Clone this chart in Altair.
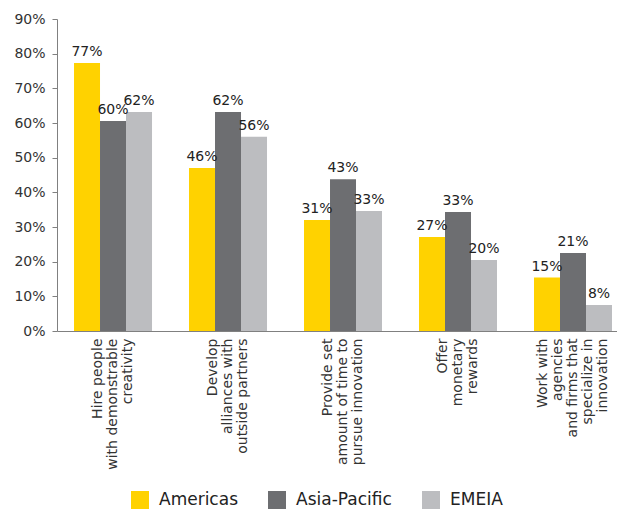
import altair as alt
import pandas as pd

categories = [
    "Hire people|with demonstrable|creativity",
    "Develop|alliances with|outside partners",
    "Provide set|amount of time to|pursue innovation",
    "Offer|monetary|rewards",
    "Work with|agencies|and firms that|specialize in|innovation",
]
series = ["Americas", "Asia-Pacific", "EMEIA"]
americas = [77.3, 47.0, 32.0, 27.1, 15.4]
asia_pacific = [60.6, 63.2, 43.8, 34.3, 22.5]
emeia = [63.2, 56.0, 34.6, 20.5, 7.5]
americas_labels = ["77%", "46%", "31%", "27%", "15%"]
asia_pacific_labels = ["60%", "62%", "43%", "33%", "21%"]
emeia_labels = ["62%", "56%", "33%", "20%", "8%"]
colors = ["#FFD200", "#6D6E71", "#BCBDC0"]
y_ticks = [0, 10, 20, 30, 40, 50, 60, 70, 80, 90]

rows = []
for s, vals, labs in zip(series, [americas, asia_pacific, emeia],
                         [americas_labels, asia_pacific_labels, emeia_labels]):
    for c, v, l in zip(categories, vals, labs):
        rows.append({"category": c, "series": s, "value": v, "label": l})
df = pd.DataFrame(rows)

FONT = "DejaVu Sans"
LH = 15

base = alt.Chart(df).encode(
    x=alt.X(
        "category:N",
        sort=categories,
        scale=alt.Scale(paddingInner=0.3217, paddingOuter=0.0957, align=0.773),
        axis=alt.Axis(
            title=None, labelAngle=270, labelAlign="right", labelBaseline="middle",
            labelExpr="split(datum.label, '|')", ticks=False, labelPadding=7,
            labelFontSize=14, labelLineHeight=LH, domainColor="#808080",
            domainWidth=1, labelColor="#333333", labelLimit=0, labelOverlap=False,
            labelOffset={
                "condition": {"test": "length(split(datum.label, '|')) > 3",
                              "value": -2 * LH},
                "value": -LH,
            },
        ),
    ),
    xOffset=alt.XOffset("series:N", sort=series,
                        scale=alt.Scale(paddingInner=0, paddingOuter=0)),
    y=alt.Y(
        "value:Q",
        scale=alt.Scale(domain=[0, 90], nice=False),
        axis=alt.Axis(
            values=y_ticks, labelExpr="datum.value + '%'", title=None, grid=False,
            tickSize=5, tickColor="#808080", domainColor="#808080", domainWidth=1,
            labelFontSize=14, labelColor="#333333", labelPadding=7,
        ),
    ),
)

bars = base.mark_bar().encode(
    color=alt.Color(
        "series:N",
        sort=series,
        scale=alt.Scale(domain=series, range=colors),
        legend=alt.Legend(
            title=None, orient="none", legendX=74, legendY=472,
            direction="horizontal", symbolType="square", symbolSize=324,
            symbolStrokeWidth=0, labelFontSize=17, labelOffset=10,
            columnPadding=30, labelColor="#222222", padding=0,
        ),
    )
)

texts = base.mark_text(baseline="bottom", dy=-4, fontSize=14, color="#222222",
                       font=FONT).encode(text="label:N")

chart = (
    alt.layer(bars, texts)
    .properties(
        width=560, height=312,
        padding={"left": 49, "top": 11, "right": 0, "bottom": 178},
        autosize=alt.AutoSizeParams(type="none"),
    )
    .configure_view(stroke=None)
    .configure_axis(labelFont=FONT)
    .configure_legend(labelFont=FONT)
    .configure_text(font=FONT)
)

chart.save("out.html", embed_options={"renderer": "svg", "actions": False})
